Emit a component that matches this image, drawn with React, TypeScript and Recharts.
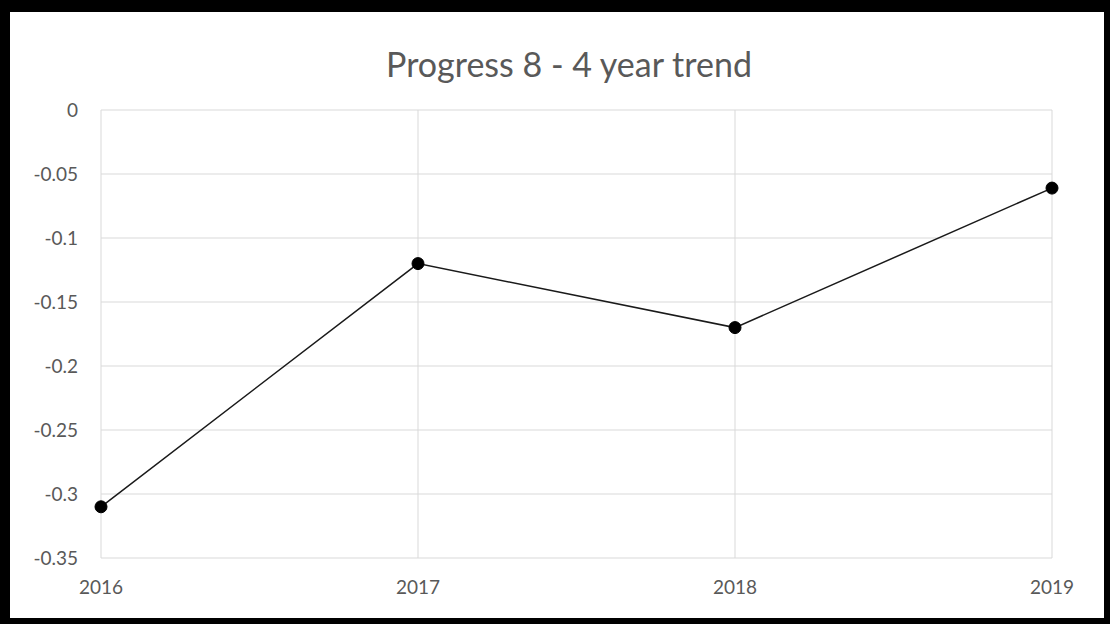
import React from "react";
import { LineChart, Line, XAxis, YAxis, CartesianGrid } from "recharts";

const years = ["2016", "2017", "2018", "2019"];
const progress8 = [-0.31, -0.12, -0.17, -0.061];
const yTicks = [0, -0.05, -0.1, -0.15, -0.2, -0.25, -0.3, -0.35];
const title = "Progress 8 - 4 year trend";

const data = years.map((y, i) => ({ year: y, value: progress8[i] }));

const FONT = "Lato, 'Open Sans', sans-serif";
const GREY = "#595959";

export default function App() {
  return (
    <div style={{ position: "absolute", left: 0, top: 0, width: 1110, height: 624, background: "#000" }}>
      <div style={{ position: "absolute", left: 10, top: 12, width: 1094, height: 606, background: "#fff" }}>
        <div
          style={{
            position: "absolute",
            left: 0,
            top: 32,
            width: 1118,
            textAlign: "center",
            fontFamily: FONT,
            fontSize: 34,
            color: GREY,
            lineHeight: "40px",
          }}
        >
          {title}
        </div>
        <LineChart
          width={1094}
          height={606}
          data={data}
          margin={{ top: 98, right: 52, bottom: 0, left: 0 }}
        >
          <CartesianGrid stroke="#d9d9d9" strokeWidth={1} horizontal vertical />
          <XAxis
            dataKey="year"
            axisLine={false}
            tickLine={false}
            tickSize={0}
            tickMargin={23}
            height={60}
            padding={{ left: 0, right: 0 }}
            tick={{ fill: GREY, fontSize: 19, fontFamily: FONT }}
            interval={0}
          />
          <YAxis
            type="number"
            domain={[-0.35, 0]}
            ticks={yTicks}
            axisLine={false}
            tickLine={false}
            tickSize={0}
            tickMargin={23}
            width={91}
            tick={{ fill: GREY, fontSize: 19, fontFamily: FONT }}
            interval={0}
          />
          <Line
            type="linear"
            dataKey="value"
            stroke="#1a1a1a"
            strokeWidth={1.5}
            dot={{ r: 6, fill: "#000", stroke: "#000", strokeWidth: 1 }}
            isAnimationActive={false}
          />
        </LineChart>
      </div>
    </div>
  );
}
